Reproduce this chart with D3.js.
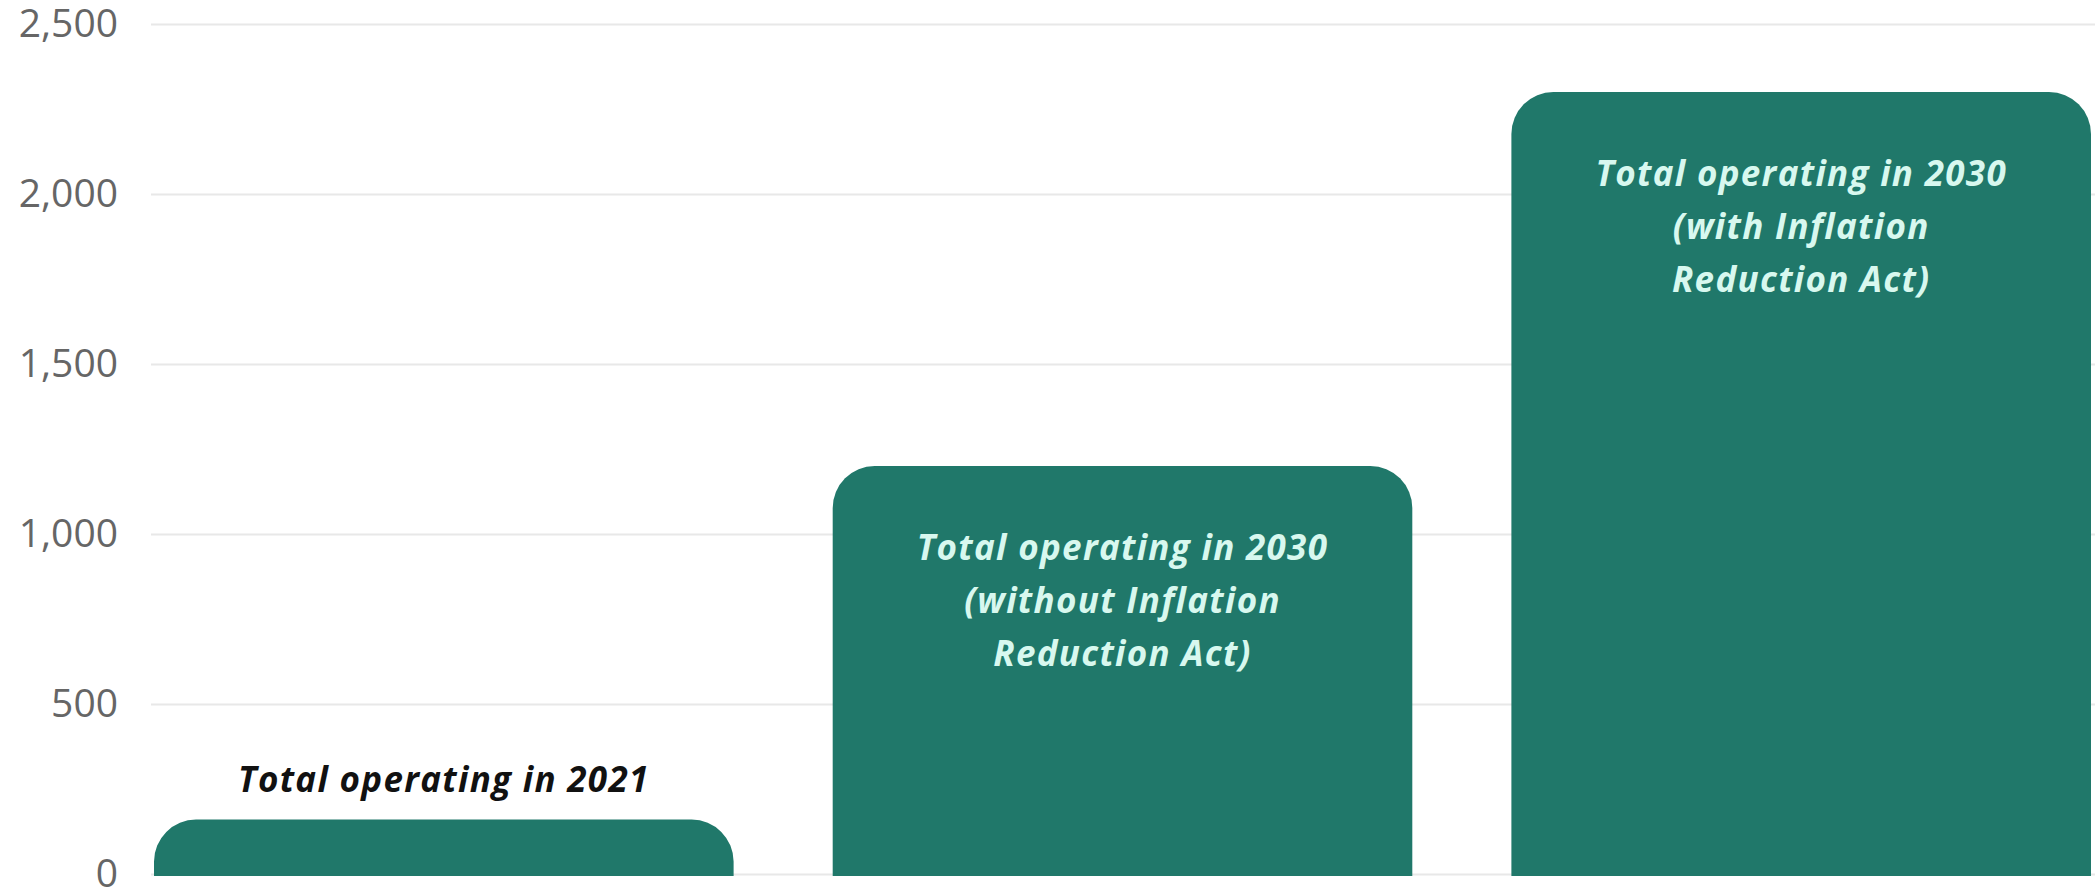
<!DOCTYPE html>
<html>
<head>
<meta charset="utf-8">
<script src="https://cdn.jsdelivr.net/npm/d3@7"></script>
<style>
  html, body { margin: 0; padding: 0; background: #fff; }
  svg { display: block; font-family: "Open Sans", "Noto Sans", sans-serif; }
</style>
</head>
<body>
<div id="chart"></div>
<script>
const categories = ["2021", "2030 without IRA", "2030 with IRA"];
const values = [160, 1200, 2300];
const barLabels = [
    ["Total operating in 2021"],
    ["Total operating in 2030", "(without Inflation", "Reduction Act)"],
    ["Total operating in 2030", "(with Inflation", "Reduction Act)"]
];
const yTicks = [0, 500, 1000, 1500, 2000, 2500];

const W = 2095, H = 893;
const margin = {top: 24, right: 4, bottom: 19, left: 154};

const svg = d3.select("#chart").append("svg").attr("width", W).attr("height", H);

const x = d3.scaleBand().domain(categories).range([margin.left, W - margin.right]).paddingInner(0.146).paddingOuter(0);
const y = d3.scaleLinear().domain([0, 2500]).range([H - margin.bottom, margin.top]);

// grid
svg.append("g")
    .attr("transform", `translate(151,0)`)
    .call(d3.axisLeft(y).tickValues(yTicks).tickSize(-(W - 151)).tickFormat(""))
    .call(g => g.select(".domain").remove())
    .call(g => g.selectAll("line").attr("stroke", "#e8e8e8").attr("stroke-width", 2));

// y labels
svg.append("g")
    .attr("transform", `translate(118,0)`)
    .call(d3.axisLeft(y).tickValues(yTicks).tickSize(0).tickPadding(0).tickFormat(d3.format(",")))
    .call(g => g.select(".domain").remove())
    .call(g => g.selectAll("text")
        .attr("font-size", 39)
        .attr("fill", "#666")
        .attr("font-family", "'Open Sans', sans-serif"));

const r = 42;
function topRounded(x0, y0, w, h) {
    const rr = Math.min(r, h, w / 2);
    return `M${x0},${y0 + h}V${y0 + rr}A${rr},${rr} 0 0 1 ${x0 + rr},${y0}` +
           `H${x0 + w - rr}A${rr},${rr} 0 0 1 ${x0 + w},${y0 + rr}V${y0 + h}Z`;
}

svg.append("g").selectAll("path")
    .data(values)
    .join("path")
    .attr("d", (d, i) => topRounded(x(categories[i]), y(d), x.bandwidth(), y(0) - y(d) + 2))
    .attr("fill", "#20786a");

// labels
const lineH = 53;
values.forEach((v, i) => {
    const cx = x(categories[i]) + x.bandwidth() / 2;
    const lines = barLabels[i];
    const inside = v > 500;
    const t = svg.append("text")
        .attr("text-anchor", "middle")
        .attr("font-size", 35)
        .attr("letter-spacing", 1.3)
        .attr("font-weight", 700)
        .attr("font-style", "italic")
        .attr("fill", inside ? "#d8f8ef" : "#111");
    lines.forEach((ln, j) => {
        t.append("tspan")
            .attr("x", cx)
            .attr("y", inside ? y(v) + 94 + j * lineH : y(v) - 28)
            .text(ln);
    });
});
</script>
</body>
</html>
